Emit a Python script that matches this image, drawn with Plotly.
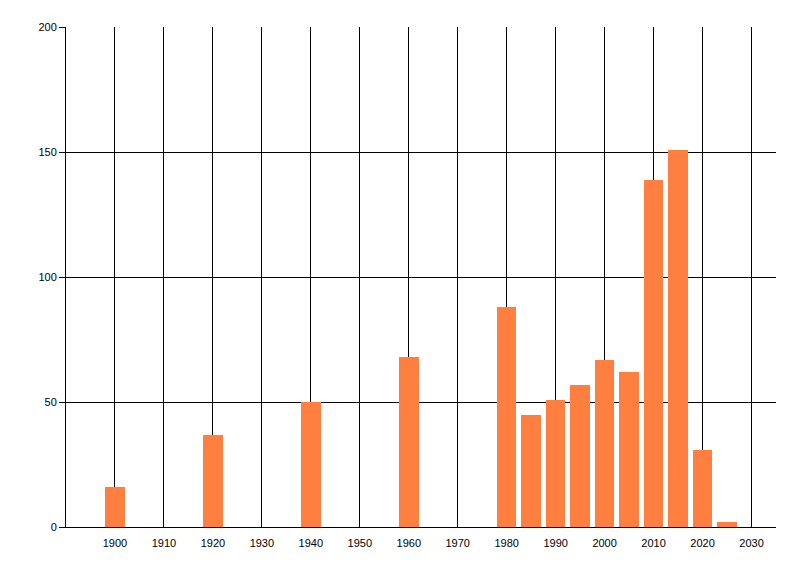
import plotly.graph_objects as go

# Data
years = [1900, 1920, 1940, 1960, 1980, 1985, 1990, 1995, 2000, 2005, 2010, 2015, 2020, 2025]
counts = [16, 37, 50, 68, 88, 45, 51, 57, 67, 62, 139, 151, 31, 2]
x_ticks = list(range(1900, 2031, 10))
y_ticks = [0, 50, 100, 150, 200]

fig = go.Figure()

fig.add_trace(go.Bar(x=years, y=counts, width=4, marker=dict(color='#FF7F40', line=dict(width=0)), showlegend=False))

# page is drawn with an 8px offset, so margins are shifted to match the reference
fig.update_layout(
    width=800, height=576,
    margin=dict(l=58, r=32, t=19, b=57),
    paper_bgcolor='white', plot_bgcolor='white',
    font=dict(family='Liberation Sans, Arial, sans-serif', size=11, color='black'),
    bargap=0,
)

fig.update_xaxes(
    range=[1890, 2035], tickvals=x_ticks, ticks='', showgrid=True, gridcolor='black', gridwidth=1,
    showline=True, linecolor='black', linewidth=1, zeroline=False, ticklabelstandoff=6,
)
fig.update_yaxes(
    range=[0, 200], tickvals=y_ticks, ticks='outside', ticklen=6, tickcolor='black',
    showgrid=True, gridcolor='black', gridwidth=1,
    showline=True, linecolor='black', linewidth=1, zeroline=False,
)

fig.write_html("out.html")
